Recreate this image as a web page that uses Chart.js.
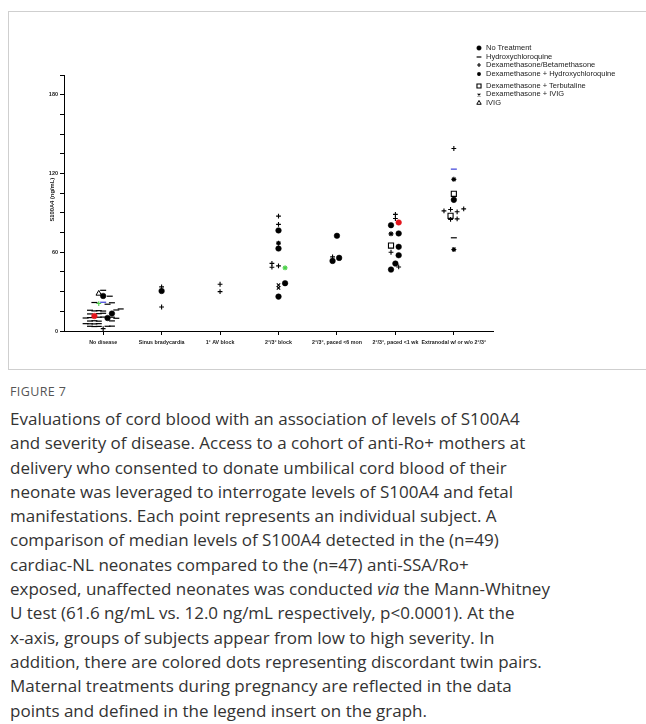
<!DOCTYPE html>
<html><head><meta charset="utf-8">
<script src="https://cdn.jsdelivr.net/npm/chart.js@4/dist/chart.umd.min.js"></script>
<style>
html,body{margin:0;padding:0;background:#fff;width:646px;height:724px;overflow:hidden;}
#box{position:absolute;left:8px;top:11px;width:700px;height:357px;border:1px solid #cfcfcf;}
#wrap{position:absolute;left:0;top:0;width:646px;height:370px;}
#legend{position:absolute;left:474px;top:44px;font-family:'Liberation Sans',Arial,sans-serif;font-size:7.5px;color:#222;}
.row{height:8.6px;line-height:8.6px;white-space:nowrap;display:flex;align-items:center;}
.row canvas{width:10px;height:8px;margin-right:2px;}
.gap{margin-top:3.5px;}
#figlabel{position:absolute;left:10px;top:383px;font-family:'Open Sans',sans-serif;font-size:12.5px;color:#555;letter-spacing:0.4px;}
#caption{position:absolute;left:10px;top:407px;font-family:'Open Sans',sans-serif;font-size:17px;line-height:24.3px;color:#333;white-space:nowrap;}
</style></head>
<body>
<div id="box"></div>
<div id="wrap"><canvas id="c" width="646" height="370"></canvas></div>
<div id="legend"></div>
<div id="figlabel">FIGURE 7</div>
<div id="caption">Evaluations of cord blood with an association of levels of S100A4<br>and severity of disease. Access to a cohort of anti-Ro+ mothers at<br>delivery who consented to donate umbilical cord blood of their<br>neonate was leveraged to interrogate levels of S100A4 and fetal<br>manifestations. Each point represents an individual subject. A<br>comparison of median levels of S100A4 detected in the (n=49)<br>cardiac-NL neonates compared to the (n=47) anti-SSA/Ro+<br>exposed, unaffected neonates was conducted <i>via</i> the Mann-Whitney<br>U test (61.6 ng/mL vs. 12.0 ng/mL respectively, p&lt;0.0001). At the<br>x-axis, groups of subjects appear from low to high severity. In<br>addition, there are colored dots representing discordant twin pairs.<br>Maternal treatments during pregnancy are reflected in the data<br>points and defined in the legend insert on the graph.</div>
<script>
// ---- categories / ticks ----
const categories = ["No disease","Sinus bradycardia","1° AV block","2°/3° block","2°/3°, paced <6 mon","2°/3°, paced <1 wk","Extranodal w/ or w/o 2°/3°"];
const yMajorTicks = [0,60,120,180];
const yAxisTitle = "S100A4 (ng/mL)";
const legendLabels = ["No Treatment","Hydroxychloroquine","Dexamethasone/Betamethasone","Dexamethasone + Hydroxychloroquine","Dexamethasone + Terbutaline","Dexamethasone + IVIG","IVIG"];

// ---- series: [category (1-7), value ng/mL, lateral slot in the cluster, twin pair id] ----
const noTreatment = [
  [1,26.7,0],[1,13.3,4],[1,9.9,2],[1,11.4,-4,'a'],
  [2,30.5,0],
  [4,76.6,0],[4,62.8,0],[4,36.4,3],[4,26.2,0],
  [5,72.5,0],[5,53.4,-2],[5,55.7,1],
  [6,80.6,-2],[6,74.3,1.5],[6,64.1,1.5],[6,57.7,1.5],[6,51.4,0],[6,46.8,-2],[6,82.7,1.5,'a'],
  [7,99.9,0]
];
const hydroxychloroquine = [
  [1,31,0],[1,26.5,3],
  [1,21.7,-4],[1,21.9,0,'c'],[1,20.4,2],[1,21.5,4],
  [1,15.8,-6],[1,15.3,-4],[1,15.5,-2],[1,15.2,0],[1,16.0,6],[1,16.8,8],
  [1,13.0,-6],[1,13.2,-2],[1,13.5,0],
  [1,9.9,-8],[1,10.2,-6],[1,10.5,-2],[1,10.6,0],[1,10.5,4],[1,9.7,6],
  [1,7.6,-6],[1,7.8,-4],[1,7.5,-2],[1,7.7,4],
  [1,5.6,-8],[1,5.5,-6],[1,5.4,-4],[1,5.6,-2],
  [1,3.6,-6],[1,3.4,-4],[1,3.5,-2],[1,3.6,2],[1,3.7,4],
  [7,71,0],[7,123.3,0,'c']
];
const dexBeta = [
  [1,1.8,0],[1,20.9,-2,'b'],
  [2,33.6,0],[2,18.3,0],
  [3,35.6,0],[3,30,0],
  [4,87.5,0],[4,81.2,0],[4,51.5,-3],[4,48.6,-3],[4,49.6,0],
  [5,56.5,-2],
  [6,88.8,0],[6,85.7,0],[6,60,-2],[6,48.8,1.5],
  [7,139,0],[7,91.5,-4.5],[7,92.6,-1.5],[7,90.8,1.5],[7,93,4.5],[7,85,-1.5],[7,85.4,1.5]
];
const dexHCQ = [
  [4,66.9,0],[4,48.1,3,'b'],
  [6,74,-2],
  [7,115.5,0],[7,62.1,0]
];
const dexTerbutaline = [
  [6,65.1,-2],
  [7,104.5,0],[7,87.7,-1.5]
];
const dexIVIG = [
  [4,34.9,0],[4,32.8,0]
];
const ivig = [
  [1,28.5,-2]
];

const SLOT = 0.0375;
const pairColors = {a:'#e3151c', b:'#4cd14a', c:'#3a3fd9'};
const toPts = arr => arr.map(d => ({x: d[0] + d[2]*SLOT, y: d[1], pair: d[3] || null}));
const col = (base) => (ctx) => (ctx.raw && ctx.raw.pair) ? pairColors[ctx.raw.pair] : base;

const styles = [
  {data: noTreatment, pointStyle:'circle', radius:2.8, bw:0.5, fill:true},
  {data: hydroxychloroquine, pointStyle:'line', radius:3, bw:1.2, fill:false},
  {data: dexBeta, pointStyle:'cross', radius:2.4, bw:1.1, fill:false},
  {data: dexHCQ, pointStyle:'star', radius:2.5, bw:1.1, fill:false},
  {data: dexTerbutaline, pointStyle:'rect', radius:3.6, bw:1.1, fill:false},
  {data: dexIVIG, pointStyle:'crossRot', radius:2.4, bw:1.1, fill:false},
  {data: ivig, pointStyle:'triangle', radius:3.2, bw:1.0, fill:false}
];

const datasets = styles.map((s,i) => ({
  label: legendLabels[i],
  data: toPts(s.data),
  pointStyle: s.pointStyle,
  pointRadius: s.radius,
  pointHoverRadius: s.radius,
  pointBorderWidth: s.bw,
  pointBorderColor: col('#000'),
  pointBackgroundColor: s.fill ? col('#000') : '#fff',
  showLine: false
}));

const yTitlePlugin = {
  id: 'yTitle',
  afterDraw(chart) {
    const ys = chart.scales.y, ctx = chart.ctx;
    ctx.save();
    ctx.translate(52, ys.getPixelForValue(100));
    ctx.rotate(-Math.PI/2);
    ctx.font = 'bold 5.8px "Liberation Sans", Arial, sans-serif';
    ctx.fillStyle = '#222';
    ctx.textAlign = 'center';
    ctx.textBaseline = 'middle';
    ctx.fillText(yAxisTitle, 0, 0);
    ctx.restore();
  }
};

new Chart(document.getElementById('c'), {
  type: 'scatter',
  data: {datasets},
  plugins: [yTitlePlugin],
  options: {
    responsive: false,
    animation: false,
    events: [],
    layout: {padding: {top: 75, right: 153, left: 0, bottom: 0}},
    plugins: {legend: {display: false}, tooltip: {enabled: false}},
    scales: {
      x: {
        type: 'linear', min: 0.33, max: 7.67,
        afterBuildTicks: (s) => { s.ticks = categories.map((_, i) => ({value: i + 1})); },
        afterFit: (s) => { s.height = 39; },
        ticks: {
          autoSkip: false, maxRotation: 0, minRotation: 0, padding: 4,
          color: '#222',
          font: {family: '"Liberation Sans Narrow", "Liberation Sans", Arial, sans-serif', size: 5.3, weight: 'bold'},
          callback: (v) => categories[Math.round(v) - 1]
        },
        grid: {display: true, drawOnChartArea: false, drawTicks: true, tickLength: 4, color: '#000', lineWidth: 1},
        border: {display: true, color: '#000', width: 1}
      },
      y: {
        min: 0, max: 195,
        afterFit: (s) => { s.width = 64; },
        ticks: {
          stepSize: 15, padding: 2, color: '#222',
          font: {family: '"Liberation Sans", Arial, sans-serif', size: 5.5, weight: 'bold'},
          callback: (v) => yMajorTicks.includes(v) ? String(v) : ''
        },
        grid: {display: true, drawOnChartArea: false, drawTicks: true, tickLength: 4, color: '#000', lineWidth: 1},
        border: {display: true, color: '#000', width: 1}
      }
    }
  }
});

// ---- legend (HTML text, symbols drawn with Chart.js point helper) ----
const leg = document.getElementById('legend');
styles.forEach((s, i) => {
  const row = document.createElement('div');
  row.className = 'row' + (i === 4 ? ' gap' : '');
  const cv = document.createElement('canvas');
  cv.width = 10; cv.height = 8;
  const cx = cv.getContext('2d');
  cx.strokeStyle = '#000';
  cx.fillStyle = s.fill ? '#000' : '#fff';
  cx.lineWidth = s.bw;
  Chart.helpers.drawPoint(cx, {pointStyle: s.pointStyle, radius: s.radius * 0.8, rotation: 0, borderWidth: s.bw}, 5, 4);
  row.appendChild(cv);
  const t = document.createElement('span');
  t.textContent = legendLabels[i];
  row.appendChild(t);
  leg.appendChild(row);
});
</script>
</body></html>
